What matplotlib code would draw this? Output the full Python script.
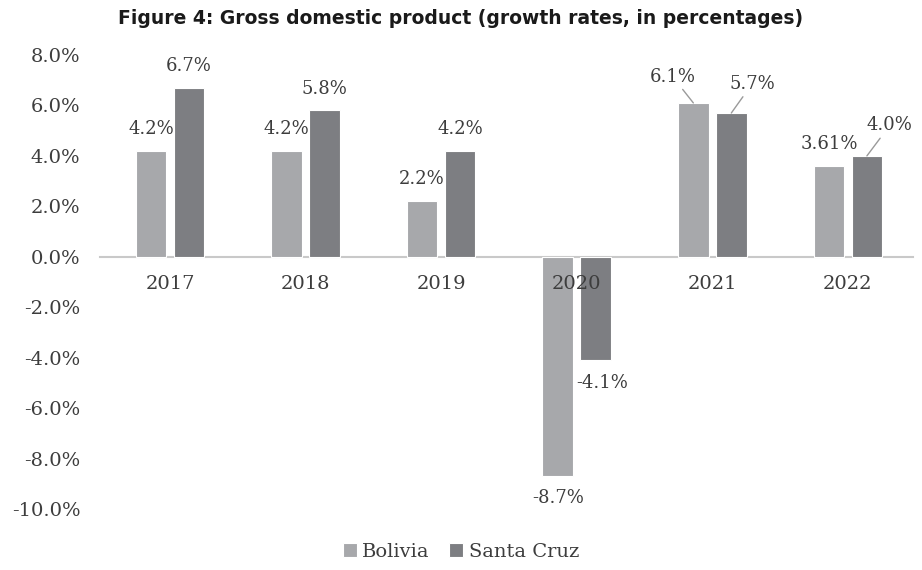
import numpy as np
import matplotlib
matplotlib.use("Agg")
from matplotlib import pyplot as plt

years = ["2017", "2018", "2019", "2020", "2021", "2022"]
bolivia = [4.2, 4.2, 2.2, -8.7, 6.1, 3.61]
santa_cruz = [6.7, 5.8, 4.2, -4.1, 5.7, 4.0]
bolivia_labels = ["4.2%", "4.2%", "2.2%", "-8.7%", "6.1%", "3.61%"]
santa_cruz_labels = ["6.7%", "5.8%", "4.2%", "-4.1%", "5.7%", "4.0%"]

# label offsets in points (dx, dy, leader line)
label_offsets = {
    ("Bolivia", 4): (-15, 19, True),
    ("Santa Cruz", 3): (5, -16.5, False),
    ("Santa Cruz", 4): (15, 21, True),
    ("Santa Cruz", 5): (16.5, 22, True),
}

light = "#a7a8ab"
dark = "#7d7e82"
text_col = "#3d3d3d"
serif = "DejaVu Serif"

fig = plt.figure(figsize=(9.22, 5.70), dpi=100)
ax = fig.add_axes([100 / 922, 1 - 509 / 570, 813 / 922, 454 / 570])

x = np.arange(len(years))
width = 0.225
offset = 0.14

series = [("Bolivia", bolivia, bolivia_labels, light, -offset),
          ("Santa Cruz", santa_cruz, santa_cruz_labels, dark, offset)]

for name, vals, labels, col, off in series:
    bars = ax.bar(x + off, vals, width, color=col, edgecolor="white",
                  linewidth=0.8, label=name, zorder=1)
    for i, (b, v, lab) in enumerate(zip(bars, vals, labels)):
        bx = b.get_x() + b.get_width() / 2
        dx, dy, leader = label_offsets.get((name, i), (0, 15.8 if v >= 0 else -15.8, False))
        kw = {}
        if leader:
            kw["arrowprops"] = dict(arrowstyle="-", color="#9a9a9a", lw=1.0,
                                    shrinkA=1, shrinkB=0)
        ax.annotate(lab, (bx, v), xytext=(dx, dy), textcoords="offset points",
                    ha="center", va="center", fontsize=13, family=serif,
                    color=text_col, annotation_clip=False, **kw)

ax.set_xlim(-0.516, 5.48)
ax.set_ylim(-10, 8)
ax.set_yticks(np.arange(-10, 9, 2))
ax.set_yticklabels([f"{v:.1f}%" for v in np.arange(-10, 9, 2)])
ax.set_xticks(x)
ax.set_xticklabels(years)

for s in ["top", "right", "left"]:
    ax.spines[s].set_visible(False)
ax.spines["bottom"].set_position(("data", 0))
ax.spines["bottom"].set_color("#c9c9c9")
ax.spines["bottom"].set_linewidth(1.5)
ax.spines["bottom"].set_zorder(0.5)

ax.tick_params(axis="y", length=0, pad=14, labelsize=14, labelcolor=text_col)
ax.tick_params(axis="x", length=0, pad=13, labelsize=14, labelcolor=text_col)
for t in ax.get_xticklabels() + ax.get_yticklabels():
    t.set_family(serif)

fig.text(0.499, 1 - 19 / 570,
         "Figure 4: Gross domestic product (growth rates, in percentages)",
         ha="center", va="center", fontsize=13.5, fontweight="bold",
         family="DejaVu Sans", color="#1a1a1a")

ax.legend(loc="center", bbox_to_anchor=(0.5, 1 - 552 / 570),
          bbox_transform=fig.transFigure, ncol=2, frameon=False,
          handlelength=0.7, handleheight=0.7, handletextpad=0.3,
          columnspacing=1.0, prop={"family": serif, "size": 14},
          labelcolor=text_col)

fig.savefig("out.png", dpi=100)
